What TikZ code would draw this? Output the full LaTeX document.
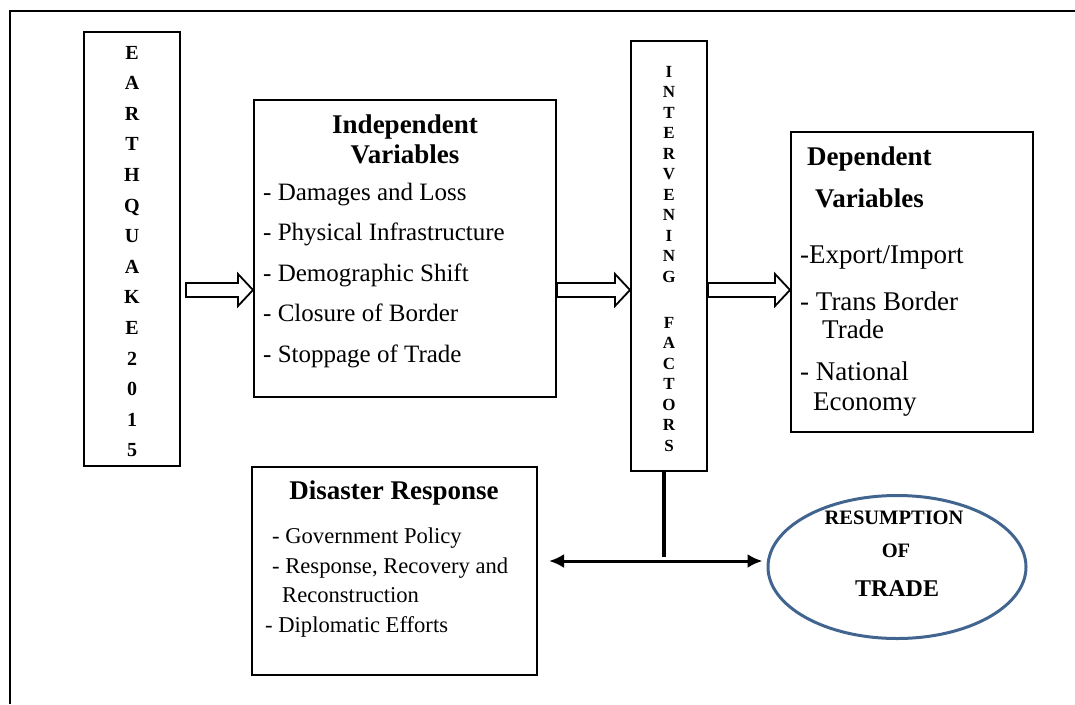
\documentclass[tikz,border=0pt]{standalone}
\usepackage{fontspec}
\setmainfont{Liberation Serif}
\usetikzlibrary{shapes.geometric,arrows.meta,calc}
\definecolor{resblue}{HTML}{41658F}

\begin{document}
\begin{tikzpicture}[x=1pt,y=-1pt,
  box/.style={draw, line width=2pt, inner sep=0pt},
  item/.style={anchor=base west, inner sep=0pt, font=\fontsize{25}{30}\selectfont},
  ditem/.style={anchor=base west, inner sep=0pt, font=\fontsize{27}{32}\selectfont},
  ritem/.style={anchor=base west, inner sep=0pt, font=\fontsize{22.6}{27}\selectfont},
  title/.style={anchor=base, inner sep=0pt, font=\bfseries\fontsize{27}{32}\selectfont},
  hollow/.style={draw, line width=1.8pt, fill=white, line join=miter,
    to path={([yshift=7pt]\tikztostart)
      -- ([shift={(-15pt,7pt)}]\tikztotarget)
      -- ([shift={(-15pt,16pt)}]\tikztotarget)
      -- (\tikztotarget)
      -- ([shift={(-15pt,-16pt)}]\tikztotarget)
      -- ([shift={(-15pt,-7pt)}]\tikztotarget)
      -- ([yshift=-7pt]\tikztostart) -- cycle}},
  link/.style={line width=3pt, {Latex[length=15pt,width=14pt]}-{Latex[length=15pt,width=14pt]}}
]
\useasboundingbox (0,0) rectangle (1075,704);

% page frame
\draw[line width=1.5pt] (1075,11) -- (10,11) -- (10,704);

% boxes
\node[box, minimum width=96, minimum height=434] (eq) at (132,249) {};
\node[box, minimum width=302, minimum height=297] (indep) at (405,248.5) {};
\node[box, minimum width=76, minimum height=430] (interv) at (669,256) {};
\node[box, minimum width=242, minimum height=300] (dep) at (912,282) {};
\node[box, minimum width=285, minimum height=208] (disaster) at (394.5,571) {};
\node[ellipse, draw=resblue, line width=3pt, minimum width=258, minimum height=143, inner sep=0pt] (res) at (897,567) {};

% vertical lettering
\node[align=center, inner sep=0pt, font=\bfseries\fontsize{20}{30.6}\selectfont] (eqtext) at (132,251.5)
  {E\\A\\R\\T\\H\\Q\\U\\A\\K\\E\\2\\0\\1\\5};
\node[align=center, inner sep=0pt, font=\bfseries\fontsize{17}{20.5}\selectfont] (intertext) at (669,259)
  {I\\N\\T\\E\\R\\V\\E\\N\\I\\N\\G\\[25.5pt]F\\A\\C\\T\\O\\R\\S};

% independent variables
\node[title] (indt1) at (405,133) {Independent};
\node[title] (indt2) at (405,163) {Variables};
\node[item] (i1) at (263,200) {- Damages and Loss};
\node[item] (i2) at (263,240.5) {- Physical Infrastructure};
\node[item] (i3) at (263,281) {- Demographic Shift};
\node[item] (i4) at (263,321.5) {- Closure of Border};
\node[item] (i5) at (263,362) {- Stoppage of Trade};

% dependent variables
\node[title, anchor=base west] (dept1) at (807,165) {Dependent};
\node[title, anchor=base west] (dept2) at (815,207) {Variables};
\node[ditem] (d1) at (800,263) {-Export/Import};
\node[ditem] (d2) at (800,310) {- Trans Border};
\node[ditem] (d3) at (822,338) {Trade};
\node[ditem] (d4) at (800,380) {- National};
\node[ditem] (d5) at (813,410) {Economy};

% disaster response
\node[title] (dist) at (394,499) {Disaster Response};
\node[ritem] (r1) at (272,543) {- Government Policy};
\node[ritem] (r2) at (272,573) {- Response, Recovery and};
\node[ritem] (r3) at (282,602) {Reconstruction};
\node[ritem] (r4) at (265,632) {- Diplomatic Efforts};

% outcome
\node[anchor=base, inner sep=0pt, font=\bfseries\fontsize{20.5}{24}\selectfont] (o1) at (894,524) {RESUMPTION};
\node[anchor=base, inner sep=0pt, font=\bfseries\fontsize{20.5}{24}\selectfont] (o2) at (896,557) {OF};
\node[anchor=base, inner sep=0pt, font=\bfseries\fontsize{24}{28}\selectfont] (o3) at (897,596) {TRADE};

% block arrows
\coordinate (row) at (0,290);
\path (eq.east |- row) ++(5,0) coordinate (a1s);
\coordinate (a1e) at (indep.west |- row);
\coordinate (a2s) at (indep.east |- row);
\coordinate (a2e) at (interv.west |- row);
\coordinate (a3s) at (interv.east |- row);
\coordinate (a3e) at (dep.west |- row);
\draw[hollow] (a1s) to (a1e);
\draw[hollow] (a2s) to (a2e);
\draw[hollow] (a3s) to (a3e);

% feedback link
\draw[line width=4pt] (interv.south) ++(-5,0) -- ++(0,85);
\path (disaster.east |- 0,561) ++(11,0) coordinate (hl);
\path (res.west |- 0,561) ++(-4,0) coordinate (hr);
\draw[link] (hl) -- (hr);
\end{tikzpicture}
\end{document}
